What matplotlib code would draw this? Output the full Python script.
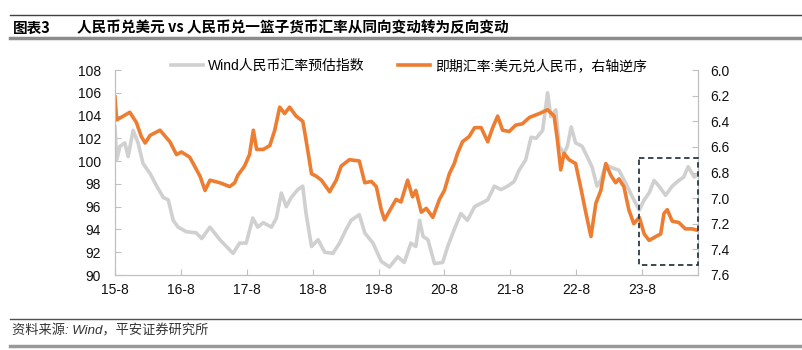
import numpy as np
import matplotlib
matplotlib.use("Agg")
import matplotlib.pyplot as plt
from matplotlib.lines import Line2D
from matplotlib.patches import Rectangle

plt.rcParams['font.family'] = ['Liberation Sans', 'Noto Sans CJK SC']

# months since 2015-08, Wind index (left axis)
wind_m = [0, 0.3, 0.9, 1.8, 2.4, 3.3, 4.2, 5.1, 6.4, 7.6, 8.8, 9.7, 10.6, 11.5, 13.0, 14.8, 15.8,
          17.3, 19.1, 20.3, 21.5, 22.7, 23.9, 25.1, 26, 27, 28.5, 29.4, 30.3, 31.2, 32.1, 33.3,
          34.2, 34.8, 35.8, 37, 38.2, 39.7, 40.9, 42.1, 43, 44.5, 45.5, 47, 48.5, 50, 51.5, 52.7,
          53.9, 54.8, 55.5, 56.1, 57, 58.2, 59.7, 60.6, 61.8, 63, 64.2, 65.5, 66.7, 67.9, 69.1,
          70.3, 71.5, 72.7, 73.6, 74.8, 75.8, 76.7, 77.9, 78.8, 79.4, 80.3, 80.9, 81.8, 82.4,
          83.1, 83.9, 85.1, 86, 86.9, 87.8, 88.5, 89.4, 90.6, 91.8, 93, 94.2, 95.5, 96.4, 97.3,
          98.2, 99.1, 100.3, 101.5, 102.7, 103.6, 104.4, 105.5, 106]
wind_v = [103.0, 100.1, 101.3, 101.6, 100.4, 102.7, 101.6, 99.8, 98.9, 97.8, 96.8, 96.6, 94.8,
          94.2, 93.8, 93.7, 93.2, 94.2, 93.1, 92.5, 91.9, 92.8, 92.8, 95.0, 94.2, 94.6, 94.2,
          95.0, 97.2, 96.0, 96.8, 97.5, 97.8, 95.4, 92.5, 93.1, 92.0, 91.9, 92.8, 94.0, 94.8,
          95.3, 93.7, 92.8, 91.2, 90.7, 91.6, 91.1, 92.8, 92.5, 94.8, 93.4, 93.1, 91.0, 91.1,
          92.5, 94.0, 95.4, 94.8, 96.0, 96.3, 96.6, 97.8, 97.5, 97.8, 98.2, 99.2, 100.1, 102.1,
          102.0, 102.7, 106.0, 103.9, 104.5, 101.3, 100.7, 101.3, 103.0, 101.6, 101.3, 100.4,
          99.5, 97.8, 98.3, 99.7, 99.4, 99.2, 98.1, 96.9, 95.7, 96.6, 97.2, 98.3, 97.8, 97.0,
          97.8, 98.3, 98.6, 99.5, 98.6, 98.8]

# months since 2015-08, USD/CNY spot (right axis, reversed)
spot_m = [0, 0.3, 0.9, 2.7, 3.9, 4.8, 5.5, 6.4, 8.2, 10, 11.2, 12.1, 13.6, 14.5, 15.5, 16.4,
          17.3, 19.1, 20.9, 21.8, 22.4, 23.6, 24.5, 25.2, 25.8, 27, 28.2, 29.1, 30, 30.9, 31.8,
          33, 34.2, 34.5, 35.2, 35.8, 36.7, 37.6, 39.1, 40.3, 41.2, 42.7, 44.5, 45.5, 46.7,
          47.6, 48.5, 49.1, 50, 51.2, 52.1, 53.3, 54.2, 54.8, 55.8, 56.7, 57.9, 59.1, 60, 60.9,
          61.8, 62.4, 63.3, 64.5, 65.5, 66.7, 67.9, 68.8, 69.7, 70.6, 71.8, 73, 74.2, 75.5,
          76.7, 77.3, 78.8, 80, 80.6, 81.2, 81.8, 82.7, 83.9, 84.8, 85.8, 86.7, 87.6, 88.5,
          89.4, 90.3, 91.2, 91.8, 92.7, 93.6, 94.5, 95.5, 96.4, 97.3, 98.5, 99.4, 100, 100.6,
          101.5, 102.7, 103.9, 105.1, 106]
spot_v = [6.21, 6.39, 6.375, 6.33, 6.41, 6.52, 6.57, 6.51, 6.47, 6.56, 6.66, 6.64, 6.68, 6.75,
          6.83, 6.94, 6.86, 6.88, 6.91, 6.88, 6.82, 6.75, 6.66, 6.47, 6.62, 6.62, 6.59, 6.47,
          6.29, 6.34, 6.29, 6.36, 6.40, 6.47, 6.65, 6.81, 6.83, 6.86, 6.95, 6.86, 6.75, 6.70,
          6.71, 6.88, 6.87, 6.91, 7.09, 7.17, 7.10, 7.01, 7.03, 6.86, 6.99, 6.94, 7.11, 7.08,
          7.15, 7.01, 6.94, 6.81, 6.73, 6.65, 6.56, 6.52, 6.45, 6.45, 6.56, 6.45, 6.36, 6.47,
          6.48, 6.43, 6.42, 6.37, 6.35, 6.34, 6.31, 6.36, 6.55, 6.78, 6.65, 6.70, 6.73, 6.91,
          7.12, 7.30, 7.04, 6.94, 6.73, 6.82, 6.88, 6.85, 6.91, 7.09, 7.20, 7.15, 7.28, 7.33,
          7.30, 7.28, 7.12, 7.09, 7.18, 7.19, 7.24, 7.24, 7.25]

tick_m = [0, 12, 24, 36, 48, 60, 72, 84, 96]
tick_labels = ['15-8', '16-8', '17-8', '18-8', '19-8', '20-8', '21-8', '22-8', '23-8']

# highlighted window: months, spot range
box_m = (95.4, 106.2)
box_v = (6.69, 7.52)

gray = '#d0d0d0'
orange = '#ed7d31'
axis_c = '#c0c0c0'

fig = plt.figure(figsize=(8.03, 3.5), dpi=100)
ax = fig.add_axes([115/803, 1-275/350, (698-115)/803, 205/350])
ax2 = ax.twinx()

ax.plot(wind_m, wind_v, color=gray, lw=2.6, solid_joinstyle='round')
ax2.plot(spot_m, spot_v, color=orange, lw=2.6, solid_joinstyle='round')

ax.set_xlim(0, 106.2)
ax.set_ylim(90, 108)
ax.set_yticks(np.arange(90, 109, 2))
ax2.set_ylim(7.6, 6.0)
ax2.set_yticks(np.arange(6.0, 7.61, 0.2))
ax2.set_yticklabels(['%.1f' % v for v in np.arange(6.0, 7.61, 0.2)])
ax.set_xticks(tick_m)
ax.set_xticklabels(tick_labels)

for a in (ax, ax2):
    for s in a.spines.values():
        s.set_color(axis_c)
    a.spines['top'].set_visible(False)
    a.tick_params(direction='in', length=4, color=axis_c, labelsize=10, labelcolor='#111111')
ax.tick_params(axis='y', pad=10)
ax.tick_params(axis='x', pad=6)
ax2.tick_params(axis='y', pad=9)

ax2.add_patch(Rectangle((box_m[0], box_v[0]), box_m[1]-box_m[0], box_v[1]-box_v[0],
                        fill=False, ls=(0, (3, 2)), lw=1.3, ec='#2b3a4a', clip_on=False, zorder=5))

handles = [Line2D([], [], color=gray, lw=2.6), Line2D([], [], color=orange, lw=2.6)]
fig.legend(handles, ['Wind人民币汇率预估指数', '即期汇率:美元兑人民币，右轴逆序'],
           loc='center', bbox_to_anchor=(409/803, 1-66/350), ncol=2, frameon=False,
           fontsize=10, handlelength=2.3, handletextpad=0.4, columnspacing=2.4)

# header and footer
fig.add_artist(Line2D([10/803, 1], [1-15/350]*2, color='#404040', lw=1))
fig.add_artist(Line2D([10/803, 1], [1-38/350]*2, color='#8c8c8c', lw=2.5))
fig.text(13/803, 1-27.5/350, '图表3', fontsize=10.5, fontweight='bold', va='center',
         family=['Noto Sans CJK SC'])
fig.text(77/803, 1-27.5/350, '人民币兑美元 vs 人民币兑一篮子货币汇率从同向变动转为反向变动',
         fontsize=10.5, fontweight='bold', va='center', family=['Noto Sans CJK SC'])
fig.add_artist(Line2D([10/803, 1], [1-319/350]*2, color='#505050', lw=1))
fig.add_artist(Line2D([10/803, 1], [1-346/350]*2, color='#999999', lw=2.5))
fig.text(12/803, 1-331/350, '资料来源: Wind，平安证券研究所', fontsize=9.5, style='italic',
         color='#333333', va='center')

fig.savefig('out.png', dpi=100)
